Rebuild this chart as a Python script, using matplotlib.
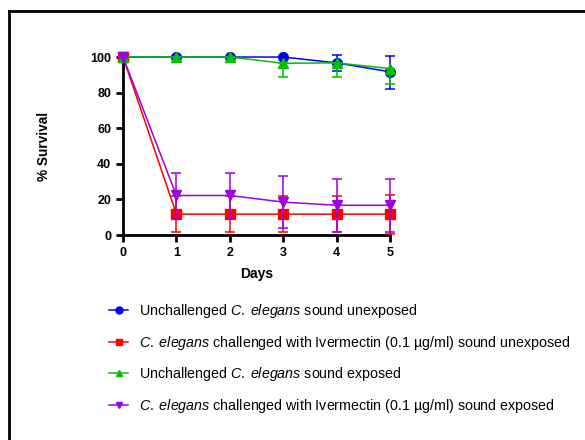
import matplotlib
matplotlib.use("Agg")
import matplotlib.pyplot as plt
from matplotlib.lines import Line2D

plt.rcParams['font.family'] = ['Liberation Sans', 'DejaVu Sans']
plt.rcParams['mathtext.fontset'] = 'custom'
plt.rcParams['mathtext.it'] = 'Liberation Sans:italic'
plt.rcParams['mathtext.rm'] = 'Liberation Sans'

days = [0, 1, 2, 3, 4, 5]
x_ticks = [0, 1, 2, 3, 4, 5]
y_ticks = [0, 20, 40, 60, 80, 100]

labels = [
    r"Unchallenged $\it{C.\;elegans}$ sound unexposed",
    r"$\it{C.\;elegans}$ challenged with Ivermectin (0.1 µg/ml) sound unexposed",
    r"Unchallenged $\it{C.\;elegans}$ sound exposed",
    r"$\it{C.\;elegans}$ challenged with Ivermectin (0.1 µg/ml) sound exposed",
]

blue_y = [100, 100, 100, 100, 96.7, 91.7]
blue_err_lo = [0, 0, 0, 0, 4.5, 9.8]
blue_err_hi = [0, 0, 0, 0, 4.5, 9.0]
red_y = [100, 11.7, 11.7, 11.7, 11.7, 11.7]
red_err = [0, 10, 10, 10, 10, 11]
green_y = [100, 100, 100, 96.5, 96.7, 93.5]
green_err_lo = [0, 0, 0, 8, 8, 8.4]
green_err_hi = [0, 0, 0, 0, 0, 0]
purple_y = [100, 22.2, 22.2, 18.5, 16.7, 16.7]
purple_err = [0, 12.8, 12.8, 14.6, 14.9, 14.9]

colors = ['#0000FF', '#FF0000', '#00C000', '#9B00E8']
markers = ['o', 's', '^', 'v']
msizes = [7, 6.5, 6.5, 6.5]

fig = plt.figure(figsize=(5.85, 4.4), dpi=100)
ax = fig.add_axes([0.2103, 0.4659, 0.4564, 0.4045])

series = [
    (purple_y, purple_err, 3),
    (red_y, red_err, 1),
    (green_y, [green_err_lo, green_err_hi], 2),
    (blue_y, [blue_err_lo, blue_err_hi], 0),
]
for ys, err, i in series:
    ax.errorbar(days, ys, yerr=err, color=colors[i], marker=markers[i],
                markersize=msizes[i], linewidth=1.1, elinewidth=1.1, capsize=3.5,
                capthick=1.1, clip_on=False, zorder=3 + i)

ax.set_xlim(0, 5)
ax.set_ylim(0, 100)
ax.set_xticks(x_ticks)
ax.set_yticks(y_ticks)
for s in ['top', 'right']:
    ax.spines[s].set_visible(False)
for s in ['left', 'bottom']:
    ax.spines[s].set_linewidth(2)
ax.tick_params(width=2, length=5, labelsize=9)
for t in ax.get_xticklabels() + ax.get_yticklabels():
    t.set_fontweight('bold')
ax.set_xlabel('Days', fontsize=10, fontweight='bold', labelpad=6)
ax.set_ylabel('% Survival', fontsize=9.8, fontweight='bold', labelpad=28)

handles = [Line2D([0], [0], color=colors[i], marker=markers[i], markersize=5,
                  linewidth=1.1) for i in range(4)]
fig.legend(handles, labels, loc='upper left', bbox_to_anchor=(0.165, 0.342),
           frameon=False, fontsize=10.3, handlelength=1.33, handletextpad=0.77,
           labelspacing=0.94)

fig.add_artist(Line2D([0.016, 0.016], [0, 0.975], transform=fig.transFigure,
                      color='black', linewidth=2))
fig.add_artist(Line2D([0.016, 1.0], [0.975, 0.975], transform=fig.transFigure,
                      color='black', linewidth=2))

fig.savefig('out.png', dpi=100)
